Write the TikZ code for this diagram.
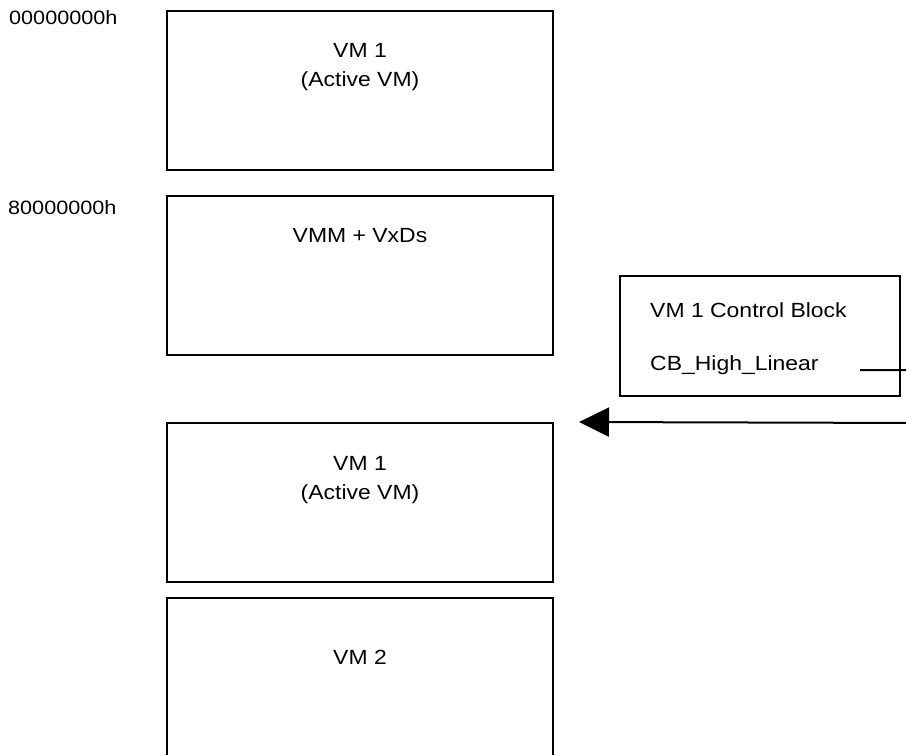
\documentclass[tikz,border=0pt]{standalone}
\usepackage{fontspec}
\setmainfont{Liberation Sans}[FakeStretch=1.12]
\usetikzlibrary{arrows.meta,calc}
\begin{document}
\begin{tikzpicture}[x=1pt,y=-1pt,
  box/.style={draw=black,line width=2pt,minimum width=386pt,minimum height=159pt,inner sep=0pt},
  cbbox/.style={draw=black,line width=2pt,minimum width=280pt,minimum height=120pt,inner sep=0pt},
  txt/.style={inner sep=0pt,anchor=base,font=\fontsize{20.5}{24}\selectfont},
  ltxt/.style={inner sep=0pt,anchor=base west,font=\fontsize{20.5}{24}\selectfont},
  addr/.style={inner sep=0pt,anchor=base west,font=\fontsize{19.3}{23}\selectfont},
  conn/.style={line width=2pt}]
\useasboundingbox (0,0) rectangle (906,755);
% address labels
\node[addr] (a0) at (9,24) {00000000h};
\node[addr] (a8) at (8,214) {80000000h};
% memory boxes
\node[box] (b1) at (360,90) {};
\node[txt] (t1a) at (360,57) {VM 1};
\node[txt] (t1b) at (360,86) {(Active VM)};
\node[box] (b2) at (360,275.5) {};
\node[txt] (t2) at (360,242) {VMM + VxDs};
\node[box] (b3) at (360,502.5) {};
\node[txt] (t3a) at (360,470) {VM 1};
\node[txt] (t3b) at (360,499) {(Active VM)};
\node[box] (b4) at (360,677) {};
\node[txt] (t4) at (360,664) {VM 2};
% control block
\node[cbbox] (cb) at (760,336) {};
\node[ltxt] (cb1) at (650,317) {VM 1 Control Block};
\node[ltxt] (cb2) at (650,370) {CB\_High\_Linear};
% connector
\coordinate (s) at (860,370);
\coordinate (e) at ($(b3.north east)+(25,0)$);
\draw[conn,-{Triangle[length=30pt,width=29pt]}] (s) -- (920,370) -- (920,423) -- (e);
\end{tikzpicture}
\end{document}
